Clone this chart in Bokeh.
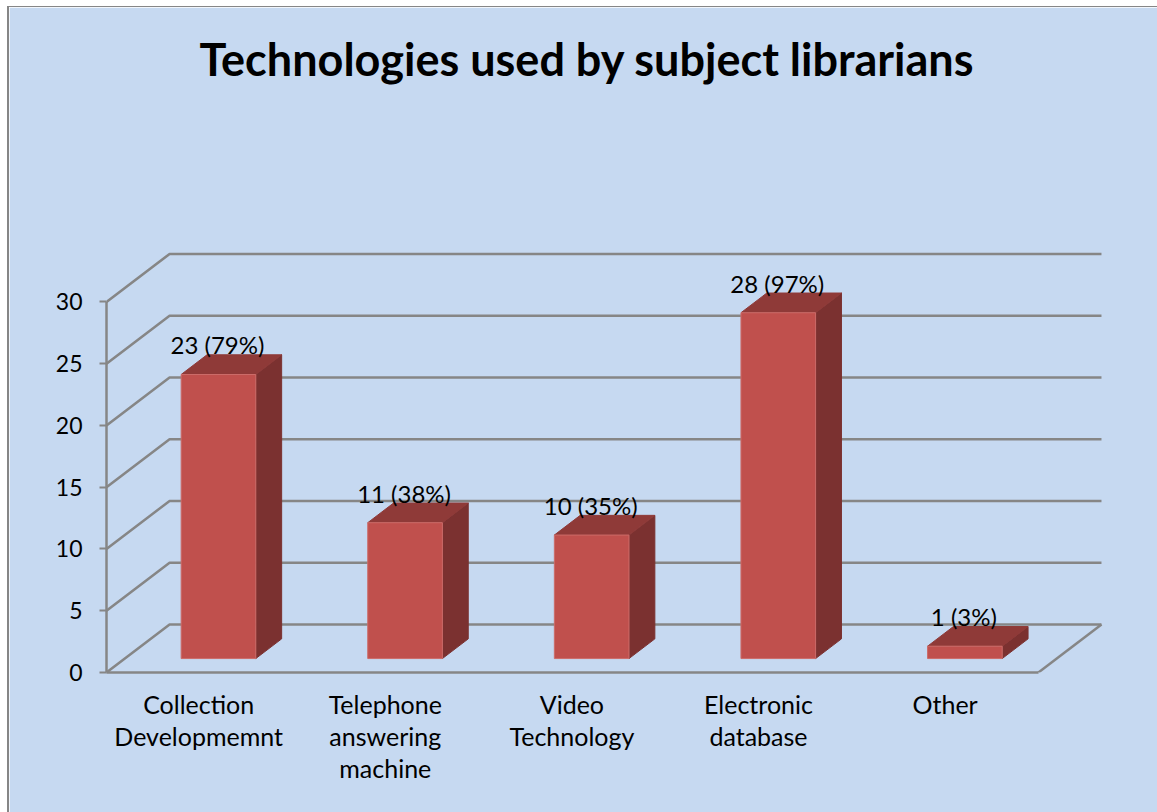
from bokeh.embed import file_html
from bokeh.models import FixedTicker, Range1d, Title
from bokeh.plotting import figure
from bokeh.resources import INLINE
from bokeh.core.properties import value

# Survey results
categories = ["Collection\nDevelopmemnt", "Telephone\nanswering\nmachine",
              "Video\nTechnology", "Electronic\ndatabase", "Other"]
counts = [23, 11, 10, 28, 1]
percents = [79, 38, 35, 97, 3]
y_ticks = [0, 5, 10, 15, 20, 25, 30]

BG = "#C6D9F1"
GRID = "#868686"
FONT = "Lato"

# Pseudo-3D box geometry, in data units
FLOOR_LEFT, FLOOR_RIGHT = -0.494, 4.5
DEPTH_X, DEPTH_Y = 0.338, 3.89
BAR_OFFSET, BAR_WIDTH = 0.106, 0.40
BAR_FRONT, BAR_BACK = 0.29, 0.70
PX_PER_UNIT = 12.33
FRAME_HEIGHT = 579

p = figure(width=1150, height=806, output_backend="svg", toolbar_location=None,
           x_range=Range1d(FLOOR_LEFT, FLOOR_LEFT + 1051 / 186.25),
           y_range=Range1d(0, FRAME_HEIGHT / PX_PER_UNIT),
           min_border_left=97, min_border_right=0, min_border_top=85,
           min_border_bottom=141, margin=(6, 0, 0, 7),
           background_fill_color=BG, border_fill_color=BG,
           outline_line_color=BG, outline_line_width=3,
           styles={"border-left": "2px solid #868686", "border-top": "1px solid #868686"})
p.grid.visible = False

title = Title(text="Technologies used by subject librarians", align="left", offset=93,
              standoff=13, text_font=FONT, text_font_size="45px", text_font_style="bold",
              text_color="black")
p.add_layout(title, "above")

# Back wall gridlines and floor
wall_xs, wall_ys = [], []
for t in y_ticks:
    wall_xs.append([FLOOR_LEFT, FLOOR_LEFT + DEPTH_X, FLOOR_RIGHT + DEPTH_X])
    wall_ys.append([t, t + DEPTH_Y, t + DEPTH_Y])
p.multi_line(wall_xs, wall_ys, line_color=GRID, line_width=2.5)
p.line([FLOOR_RIGHT, FLOOR_RIGHT + DEPTH_X], [0, DEPTH_Y], line_color=GRID, line_width=2.5)

# Bars: side, top and front faces
front_l = [i + BAR_OFFSET - BAR_WIDTH / 2 for i in range(len(counts))]
front_r = [l + BAR_WIDTH for l in front_l]
base = BAR_FRONT * DEPTH_Y
sx = DEPTH_X * (BAR_BACK - BAR_FRONT)
sy = DEPTH_Y * (BAR_BACK - BAR_FRONT)
tops = [c + base for c in counts]

side_xs = [[r, r + sx, r + sx, r] for r in front_r]
side_ys = [[base, base + sy, t + sy, t] for t in tops]
top_xs = [[l, l + sx, r + sx, r] for l, r in zip(front_l, front_r)]
top_ys = [[t, t + sy, t + sy, t] for t in tops]
p.patches(side_xs, side_ys, fill_color="#7B3130", line_color="#7B3130", line_width=1)
p.patches(top_xs, top_ys, fill_color="#8F3A38", line_color="#8F3A38", line_width=1)
p.quad(left=front_l, right=front_r, bottom=base, top=tops,
       fill_color="#C0504D", line_color="#CC6C69", line_width=1)

# Value labels sit just above the back edge of each bar's top face
label_x = [i + BAR_OFFSET for i in range(len(counts))]
label_y = [t + sy for t in tops]
labels = [f"{c} ({q}%)" for c, q in zip(counts, percents)]
p.text(label_x, label_y, text=labels, text_align="center", text_baseline="alphabetic",
       text_font=value(FONT), text_font_size="24px", text_color="black",
       y_offset=-10, x_offset=-1)

ax = p.yaxis[0]
ax.ticker = FixedTicker(ticks=y_ticks)
ax.bounds = (0, 30)
ax.axis_line_color = GRID
ax.axis_line_width = 2.5
ax.major_tick_line_color = GRID
ax.major_tick_line_width = 2
ax.major_tick_in = 0
ax.major_tick_out = 7
ax.minor_tick_out = 0
ax.minor_tick_in = 0
ax.major_label_standoff = 17
ax.major_label_text_font = FONT
ax.major_label_text_font_size = "23px"
ax.major_label_text_color = "black"

xa = p.xaxis[0]
xa.ticker = FixedTicker(ticks=list(range(len(categories))))
xa.major_label_overrides = {i: c for i, c in enumerate(categories)}
xa.bounds = (FLOOR_LEFT, FLOOR_RIGHT)
xa.axis_line_color = GRID
xa.axis_line_width = 2.5
xa.major_tick_in = 0
xa.major_tick_out = 0
xa.minor_tick_in = 0
xa.minor_tick_out = 0
xa.major_label_standoff = 16
xa.major_label_text_font = FONT
xa.major_label_text_font_size = "25px"
xa.major_label_text_line_height = 1.07
xa.major_label_text_color = "black"
xa.major_label_orientation = "horizontal"

open("out.html", "w").write(file_html(p, INLINE))
